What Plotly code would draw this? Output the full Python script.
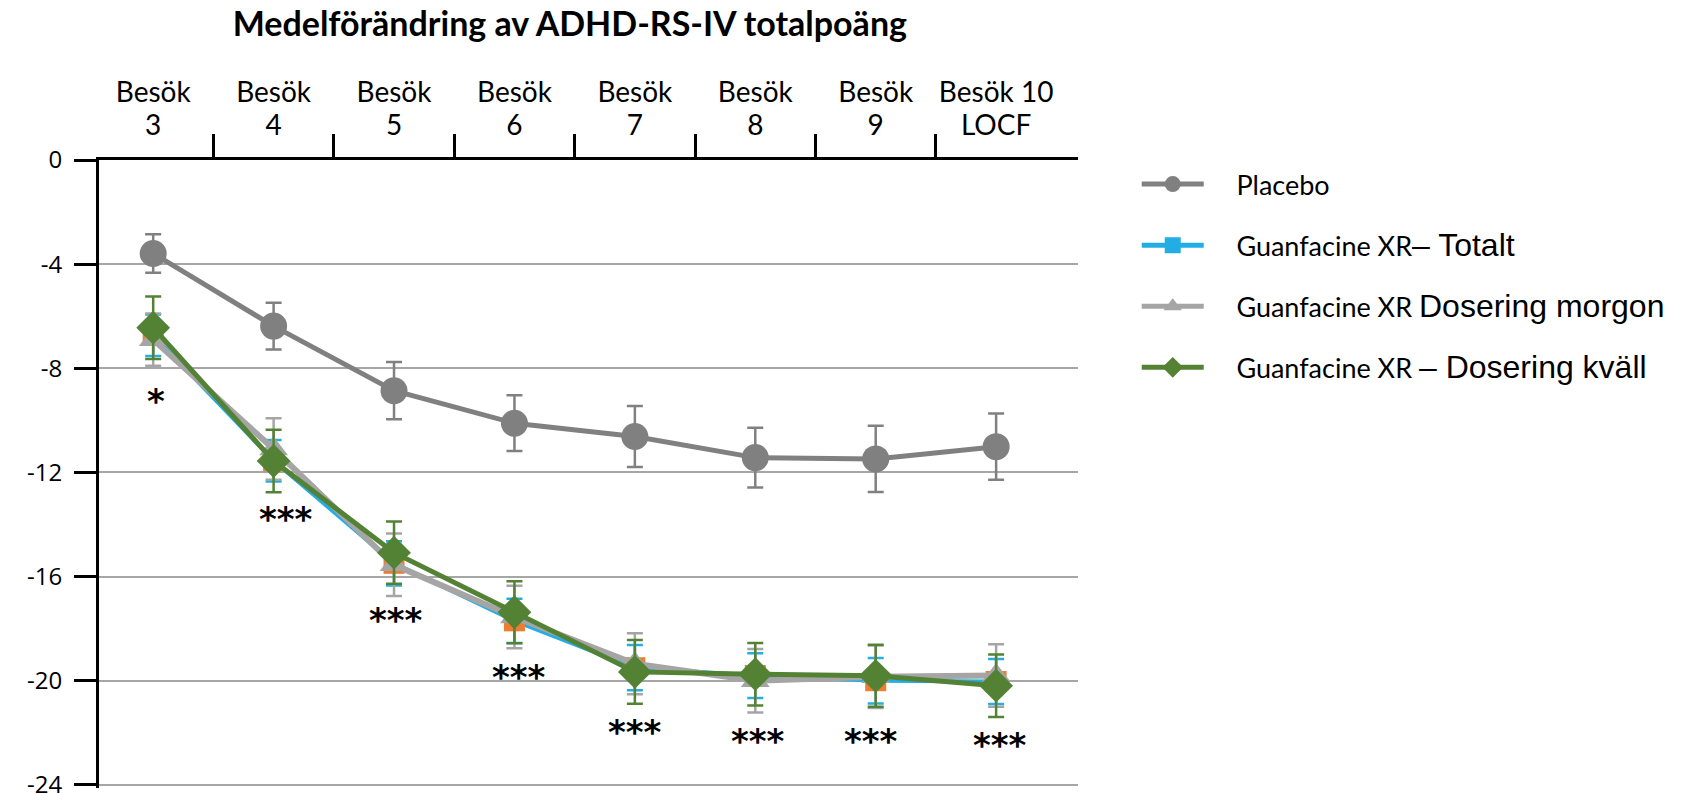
import plotly.graph_objects as go

visits = [0, 1, 2, 3, 4, 5, 6, 7]
visit_top = ["Besök", "Besök", "Besök", "Besök", "Besök", "Besök", "Besök", "Besök 10"]
visit_bottom = ["3", "4", "5", "6", "7", "8", "9", "LOCF"]

y_ticks = [0, -4, -8, -12, -16, -20, -24]
y_ticktext = ["0", "-4", "-8", "-12", "-16", "-20", "-24"]

placebo = [-3.59, -6.38, -8.86, -10.11, -10.62, -11.43, -11.48, -11.01]
placebo_err = [0.74, 0.90, 1.10, 1.07, 1.17, 1.15, 1.27, 1.27]

totalt = [-6.73, -11.55, -15.49, -17.70, -19.50, -19.80, -20.00, -20.03]
totalt_err = [0.80, 0.80, 0.85, 0.85, 0.87, 0.86, 0.87, 0.86]

morgon = [-6.90, -11.10, -15.55, -17.55, -19.35, -20.00, -19.85, -19.80]
morgon_err = [1.00, 1.18, 1.20, 1.20, 1.17, 1.22, 1.20, 1.20]

kvall = [-6.44, -11.56, -15.08, -17.37, -19.66, -19.75, -19.81, -20.19]
kvall_err = [1.20, 1.20, 1.20, 1.19, 1.22, 1.20, 1.19, 1.20]

sig_x = [0.02, 1.10, 2.02, 3.04, 4.00, 5.02, 5.96, 7.03]
sig_y = [-9.24, -13.78, -17.66, -19.85, -21.96, -22.33, -22.33, -22.48]
sig_text = ["*", "***", "***", "***", "***", "***", "***", "***"]

GRAY = "#808080"
LGRAY = "#A5A5A5"
BLUE = "#22AEE4"
ORANGE = "#ED7D31"
GREEN = "#548235"

fig = go.Figure()

fig.add_trace(go.Scatter(
    x=visits, y=placebo, mode="lines+markers", name="\u00a0\u00a0\u00a0\u00a0Placebo",
    line=dict(color=GRAY, width=5),
    marker=dict(symbol="circle", size=27, color=GRAY),
    error_y=dict(type="data", array=placebo_err, color=GRAY, thickness=2.5, width=8),
    legendgroup="a",
))
fig.add_trace(go.Scatter(
    x=visits, y=totalt, mode="lines+markers", name="Guanfacine XR– Totalt",
    line=dict(color=BLUE, width=4),
    marker=dict(symbol="square", size=21, color=ORANGE),
    error_y=dict(type="data", array=totalt_err, color=BLUE, thickness=2.5, width=8),
    showlegend=False,
))
fig.add_trace(go.Scatter(
    x=visits, y=morgon, mode="lines+markers", name="Guanfacine XR Dosering morgon",
    line=dict(color=LGRAY, width=6),
    marker=dict(symbol="triangle-up", size=25, color=LGRAY),
    error_y=dict(type="data", array=morgon_err, color=LGRAY, thickness=2.5, width=8),
    showlegend=False,
))
fig.add_trace(go.Scatter(
    x=visits, y=kvall, mode="lines+markers", name="Guanfacine XR – Dosering kväll",
    line=dict(color=GREEN, width=5),
    marker=dict(symbol="diamond", size=26, color=GREEN),
    error_y=dict(type="data", array=kvall_err, color=GREEN, thickness=2.5, width=8),
    showlegend=False,
))

calibri = "Lato, 'Open Sans', sans-serif"
sp = "\u00a0\u00a0\u00a0\u00a0"
arial_span = "<span style=\"font-family:'Liberation Sans';font-size:32px\">%s</span>"

legend_entries = [
    (sp + "Guanfacine XR" + arial_span % "– Totalt", BLUE, "square", "b"),
    (sp + "Guanfacine XR " + arial_span % "Dosering morgon", LGRAY, "triangle-up", "c"),
    (sp + "Guanfacine XR " + arial_span % "– Dosering kväll", GREEN, "diamond", "d"),
]
for name, col, sym, grp in legend_entries:
    fig.add_trace(go.Scatter(
        x=[None], y=[None], mode="lines+markers", name=name,
        line=dict(color=col, width=5),
        marker=dict(symbol=sym, size=24, color=col),
        legendgroup=grp,
    ))

# helper traces so overlaying label axes are drawn
fig.add_trace(go.Scatter(x=[None], y=[None], xaxis="x2", showlegend=False, hoverinfo="skip"))
fig.add_trace(go.Scatter(x=[None], y=[None], xaxis="x3", showlegend=False, hoverinfo="skip"))

for sx, sy, st in zip(sig_x, sig_y, sig_text):
    fig.add_annotation(x=sx, y=sy, text="<b>%s</b>" % st, showarrow=False,
                       font=dict(family="DejaVu Sans", size=34, color="black"),
                       xanchor="center", yanchor="middle")

xr = [-0.45, 7.68]
fig.update_layout(
    width=1686, height=793,
    margin=dict(l=99, r=608, t=160, b=5, autoexpand=False),
    paper_bgcolor="white", plot_bgcolor="white",
    title=dict(text="<b>Medelförändring av ADHD-RS-IV totalpoäng</b>",
               x=0.338, xanchor="center", y=0.97, yanchor="middle",
               font=dict(family=calibri, size=34, color="black")),
    xaxis=dict(range=xr, side="top", showline=True, linecolor="black", linewidth=3,
               tickmode="array", tickvals=[0.5, 1.5, 2.5, 3.5, 4.5, 5.5, 6.5],
               ticks="outside", ticklen=23, tickwidth=2.5, tickcolor="black",
               showticklabels=False, showgrid=False, zeroline=False, mirror=False,
               automargin=False),
    xaxis2=dict(range=xr, overlaying="x", side="top", anchor="y", showline=False,
                tickmode="array", tickvals=visits, ticktext=visit_bottom,
                ticks="", showgrid=False, zeroline=False, ticklabelstandoff=18,
                automargin=False,
                tickfont=dict(family=calibri, size=28, color="black")),
    xaxis3=dict(range=xr, overlaying="x", side="top", anchor="y", showline=False,
                tickmode="array", tickvals=visits, ticktext=visit_top,
                ticks="", showgrid=False, zeroline=False, ticklabelstandoff=51,
                automargin=False,
                tickfont=dict(family=calibri, size=28, color="black")),
    yaxis=dict(range=[-24.12, 0], tickmode="array", tickvals=y_ticks, ticktext=y_ticktext,
               showline=True, linecolor="black", linewidth=3,
               ticks="outside", ticklen=22, tickwidth=2.5, tickcolor="black",
               ticklabelstandoff=7, ticklabeloverflow="allow", automargin=False,
               showgrid=True, gridcolor="#A6A6A6", gridwidth=1.5, zeroline=False,
               tickfont=dict(family="'Open Sans', sans-serif", size=24, color="black")),
    legend=dict(x=1.06, y=1.0, xanchor="left", yanchor="top",
                font=dict(family=calibri, size=27, color="black"),
                tracegroupgap=23, itemwidth=62, traceorder="grouped",
                bgcolor="rgba(0,0,0,0)"),
    showlegend=True,
)

fig.write_html("out.html")
